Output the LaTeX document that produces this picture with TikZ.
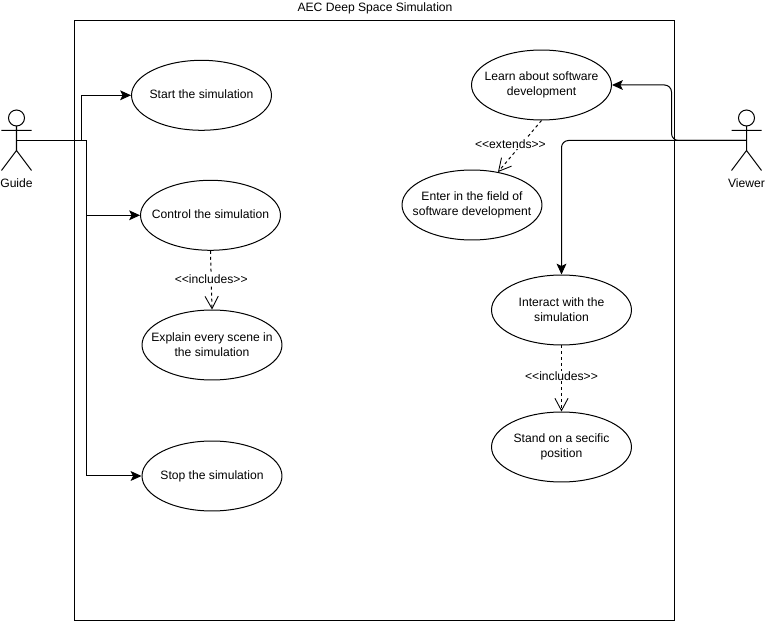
\documentclass[tikz,border=0pt]{standalone}
\usepackage{fontspec}
\setmainfont{Liberation Sans}
\usetikzlibrary{arrows.meta,shapes.geometric}
\tikzset{
  usecase/.style={draw,ellipse,line width=0.57pt,minimum width=2.8cm,minimum height=1.4cm,inner sep=-0.5cm,align=center},
  single/.style={usecase,text depth=1.1pt},
  txt/.style={inner sep=1pt,align=center},
  tag/.style={inner sep=0.5pt,fill=white},
  flow/.style={line width=0.57pt,-{Stealth[length=6.2pt,width=5.6pt,inset=1.4pt]}},
  dep/.style={line width=0.57pt,dash pattern=on 1.7pt off 1.7pt,-{Straight Barb[length=7pt,width=7.5pt,line width=0.5pt]}},
  actor/.style={line width=0.57pt}
}
\begin{document}
\begin{tikzpicture}[x=0.02cm,y=-0.02cm,font=\fontsize{6.9}{8.5}\selectfont]
  \useasboundingbox (0,0) rectangle (765,621);
  \draw[line width=0.57pt] (74.5,21) rectangle (674.5,620.5);
  \node[txt] (title) at (375,8) {AEC Deep Space Simulation};
  % left side
  \node[single] (start) at (201.5,95.3) {Start the simulation};
  \node[single] (control) at (210.5,215.3) {Control the simulation};
  \node[usecase] (explain) at (212,345) {Explain every scene in\\the simulation};
  \node[single] (stop) at (212,476) {Stop the simulation};
  % right side
  \node[usecase] (learn) at (541.5,85) {Learn about software\\development};
  \node[usecase] (enter) at (472,205) {Enter in the field of\\software development};
  \node[usecase] (interact) at (561.5,310) {Interact with the\\simulation};
  \node[usecase] (stand) at (561.5,447) {Stand on a secific\\position};
  % actors
  \draw[actor] (16.5,118) circle (8);
  \draw[actor] (16.5,126)--(16.5,150.5) (1.5,130.5)--(31.5,130.5) (1.5,170.5)--(16.5,150.5)--(31.5,170.5);
  \draw[actor] (746.5,118) circle (8);
  \draw[actor] (746.5,126)--(746.5,150.5) (731.5,130.5)--(761.5,130.5) (731.5,170.5)--(746.5,150.5)--(761.5,170.5);
  \node[txt] (guidelabel) at (16.5,183) {Guide};
  \node[txt] (viewerlabel) at (746.5,183) {Viewer};
  \coordinate (guide) at (16.5,140.5);
  \coordinate (viewer) at (746.5,140.5);
  % connectors
  \draw[flow] (guide) -- (81.5,140.5) |- (start.west);
  \draw[flow] (guide) -- (86.5,140.5) |- (control.west);
  \draw[flow] (guide) -- (86.5,140.5) |- (stop.west);
  \draw[flow,rounded corners=4pt] (viewer) -- (671.5,140.5) |- (learn.east);
  \draw[flow,rounded corners=4pt] (viewer) -- (561.5,140.5) -- (interact.north);
  \draw[dep] (control.south) -- node[tag,pos=0.49] (inc1) {{<}{<}includes{>}{>}} (explain.north);
  \draw[dep] (interact.south) -- node[tag,pos=0.46] (inc2) {{<}{<}includes{>}{>}} (stand.north);
  \draw[dep] (learn.south) -- node[tag,pos=0.45,xshift=-0.23cm] (ext) {{<}{<}extends{>}{>}} (498,172);
\end{tikzpicture}
\end{document}
